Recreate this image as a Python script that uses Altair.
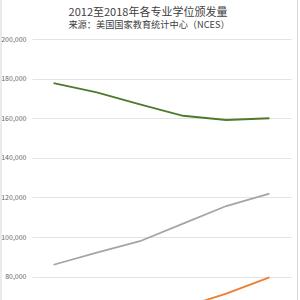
import altair as alt
import pandas as pd

years = ["2012-13", "2013-14", "2014-15", "2015-16", "2016-17", "2017-18"]
series_names = ["社会科学与历史", "工程", "计算机与信息科学"]
social = [177767, 173096, 166944, 161230, 159099, 159967]
engineering = [85987, 92162, 97858, 106789, 115640, 121956]
computer = [50962, 55367, 59586, 64405, 71416, 79598]
colors = ["#4f7a2c", "#a5a5a5", "#ed7d31"]
y_ticks = [0, 20000, 40000, 60000, 80000, 100000, 120000, 140000, 160000, 180000, 200000]
title_text = "2012至2018年各专业学位颁发量"
subtitle_text = "来源：美国国家教育统计中心（NCES）"

rows = []
for name, vals in zip(series_names, [social, engineering, computer]):
    for yr, v in zip(years, vals):
        rows.append({"年份": yr, "专业": name, "学位数": v})
df = pd.DataFrame(rows)

W, H = 259, 396
FONT = "Noto Sans CJK SC"

lines = alt.Chart(df).mark_line(strokeWidth=1.8).encode(
    x=alt.X("年份:N", sort=years, scale=alt.Scale(type="point", padding=0.5),
            axis=alt.Axis(title=None, ticks=False, domain=False, labelFontSize=7, labelColor="#666666")),
    y=alt.Y("学位数:Q", scale=alt.Scale(domain=[0, 200000], nice=False),
            axis=alt.Axis(title=None, values=y_ticks, format=",d", ticks=False, domain=False,
                          labelFontSize=7, labelColor="#666666", labelPadding=6,
                          gridColor="#e3e3e3", gridWidth=1)),
    color=alt.Color("专业:N", sort=series_names,
                    scale=alt.Scale(domain=series_names, range=colors),
                    legend=None),
)

one = pd.DataFrame({"k": [0]})
left_edge = alt.Chart(one).mark_rule(color="#d6d6d6", strokeWidth=1).encode(
    x=alt.value(-31), y=alt.value(-40), y2=alt.value(H + 40)
)
right_edge = alt.Chart(one).mark_rule(color="#d6d6d6", strokeWidth=1).encode(
    x=alt.value(265.5), y=alt.value(-40), y2=alt.value(H + 40)
)

title = alt.Chart(one).mark_text(
    font=FONT, fontSize=11, color="#404040", align="center", baseline="alphabetic"
).encode(x=alt.value(116), y=alt.value(-23.5), text=alt.value(title_text))

subtitle = alt.Chart(one).mark_text(
    font=FONT, fontSize=9.2, color="#404040", align="center", baseline="alphabetic"
).encode(x=alt.value(117), y=alt.value(-11), text=alt.value(subtitle_text))

chart = alt.layer(left_edge, right_edge, lines, title, subtitle).properties(
    width=W,
    height=H,
    autosize=alt.AutoSizeParams(type="none"),
    padding={"left": 32, "top": 39, "right": 9, "bottom": 40},
).configure_view(stroke=None).configure_axis(labelFont=FONT)

chart.save("out.html", embed_options={"renderer": "svg", "actions": False})
